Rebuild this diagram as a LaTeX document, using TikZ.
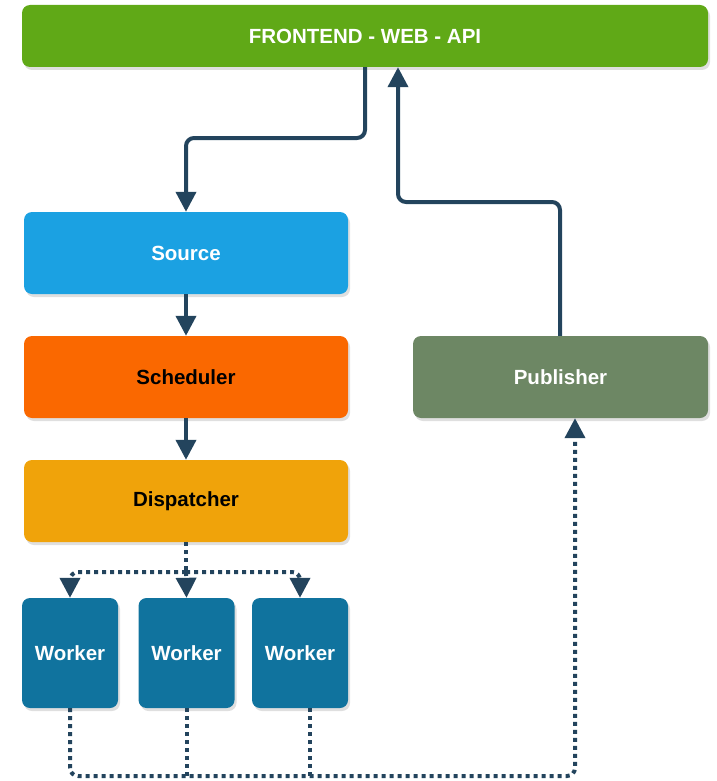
\documentclass[tikz,border=0pt]{standalone}
\usepackage{fontspec}
\setmainfont{Liberation Sans}
\usetikzlibrary{arrows.meta,shadows,calc}
\definecolor{cfront}{HTML}{60A917}
\definecolor{csource}{HTML}{1BA1E2}
\definecolor{csched}{HTML}{FA6800}
\definecolor{cdisp}{HTML}{F0A30A}
\definecolor{cpub}{HTML}{6D8764}
\definecolor{cwork}{HTML}{10739E}
\definecolor{cline}{HTML}{23445D}
\tikzset{
  box/.style={rounded corners=8pt, draw=none, inner sep=0pt,
    font=\fontsize{20.5}{24}\selectfont\bfseries,
    drop shadow={opacity=0.25, shadow xshift=2pt, shadow yshift=-3pt}},
  conn/.style={draw=cline, line width=4pt, rounded corners=8pt,
    -{Triangle[width=20pt,length=20pt]}},
  dconn/.style={conn, dash pattern=on 4pt off 4pt},
  dline/.style={draw=cline, line width=4pt, rounded corners=8pt, dash pattern=on 4pt off 4pt},
}
\begin{document}
\begin{tikzpicture}[x=1pt,y=1pt]
\useasboundingbox (0,0) rectangle (716,-781);
\node[box, fill=cfront, text=white, minimum width=686, minimum height=62] (front) at (365,-36) {FRONTEND - WEB - API};
\node[box, fill=csource, text=white, minimum width=324, minimum height=82] (source) at (186,-253) {Source};
\node[box, fill=csched, text=black, minimum width=324, minimum height=82] (sched) at (186,-377) {Scheduler};
\node[box, fill=cdisp, text=black, minimum width=324, minimum height=82] (disp) at (186,-501) {Dispatcher};
\node[box, fill=cpub, text=white, minimum width=295, minimum height=82] (pub) at (560.5,-377) {Publisher};
\node[box, fill=cwork, text=white, minimum width=96, minimum height=110] (w1) at (70,-653) {Worker};
\node[box, fill=cwork, text=white, minimum width=96, minimum height=110] (w2) at (186.5,-653) {Worker};
\node[box, fill=cwork, text=white, minimum width=96, minimum height=110] (w3) at (300,-653) {Worker};
\coordinate (split) at (186,-572);
\coordinate (bot) at (310,-776);
% solid connectors
\draw[conn] (front.south -| 365,0) -- (365,-138) -- (186,-138) -- (source.north);
\draw[conn] (pub.north -| 560,0) -- (560,-202) -- (398,-202) -- (front.south -| 398,0);
\draw[conn] (source.south) -- (sched.north);
\draw[conn] (sched.south) -- (disp.north);
% dispatcher to workers
\draw[dline] (disp.south) -- (split);
\draw[dconn] (split) -- (split -| w1.north) -- (w1.north);
\draw[dconn] (split) -- (w2.north);
\draw[dconn] (split) -- (split -| w3.north) -- (w3.north);
% workers to publisher
\draw[dconn] (w1.south) -- (w1.south |- bot) -- (575,-776) -- (pub.south -| 575,0);
\draw[dline] (w2.south) -- (w2.south |- bot);
\draw[dline] (w3.south -| bot) -- (bot);
\end{tikzpicture}
\end{document}
